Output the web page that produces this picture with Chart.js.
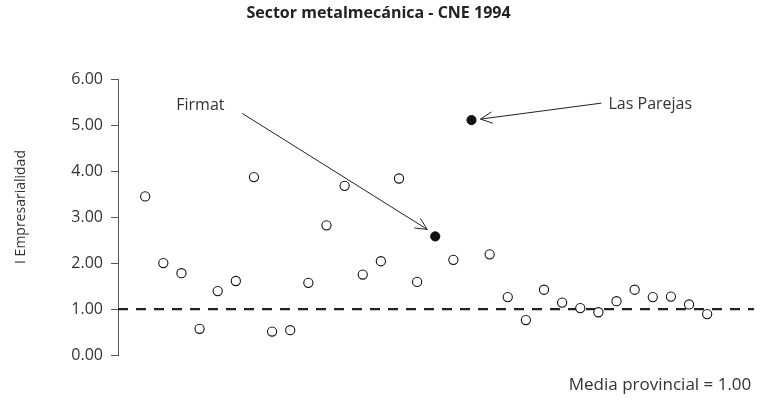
<!DOCTYPE html>
<html>
<head>
    <meta charset="UTF-8">
    <title>Sector metalmecánica - CNE 1994</title>
    <script src="https://cdn.jsdelivr.net/npm/chart.js"></script>
    <style>
        html, body { margin: 0; padding: 0; background: #fff; }
        .chart-box { width: 760px; height: 400px; position: relative; }
    </style>
</head>
<body>
    <div class="chart-box">
        <canvas id="chart"></canvas>
    </div>

    <script>
        // datos: índice de empresarialidad por localidad (orden del gráfico)
        const localidades = [1, 2, 3, 4, 5, 6, 7, 8, 9, 10, 11, 12, 13, 14, 15, 16,
                             17, 18, 19, 20, 21, 22, 23, 24, 25, 26, 27, 28, 29, 30, 31, 32];
        const indice = [3.45, 2.00, 1.78, 0.57, 1.39, 1.61, 3.87, 0.51, 0.54, 1.57, 2.82, 3.68,
                        1.75, 2.04, 3.84, 1.59, 2.58, 2.07, 5.11, 2.19, 1.26, 0.76, 1.42, 1.14,
                        1.02, 0.93, 1.17, 1.42, 1.26, 1.27, 1.10, 0.89];
        const destacadas = ['Firmat', 'Las Parejas'];
        const posDestacadas = [17, 19];
        const mediaProvincial = 1.00;
        const yTicks = [0, 1, 2, 3, 4, 5, 6];
        const tituloY = 'I Empresarialidad';

        const fuente = '"Open Sans", "DejaVu Sans", sans-serif';
        const gris = '#333';

        const abiertos = [];
        const llenos = [];
        localidades.forEach((x, i) => {
            const p = { x: x, y: indice[i] };
            if (posDestacadas.includes(x)) llenos.push(p); else abiertos.push(p);
        });

        const xMin = -0.5, xMax = 34.6;

        // flechas y textos de las localidades destacadas
        const anotaciones = {
            id: 'anotaciones',
            afterDatasetsDraw(chart) {
                const ctx = chart.ctx;
                const sx = chart.scales.x, sy = chart.scales.y;
                const conf = [
                    { nombre: destacadas[0], desde: [-193, -123], punta: [-8, -7], texto: [-259, -131] },
                    { nombre: destacadas[1], desde: [130, -17], punta: [9, -1], texto: [137, -16] }
                ];
                ctx.save();
                ctx.strokeStyle = '#222';
                ctx.lineWidth = 1;
                ctx.fillStyle = gris;
                ctx.font = '16px ' + fuente;
                ctx.textBaseline = 'middle';
                conf.forEach((c, k) => {
                    const x = posDestacadas[k];
                    const y = indice[localidades.indexOf(x)];
                    const px = sx.getPixelForValue(x), py = sy.getPixelForValue(y);
                    const x0 = px + c.desde[0], y0 = py + c.desde[1];
                    const x1 = px + c.punta[0], y1 = py + c.punta[1];
                    ctx.beginPath();
                    ctx.moveTo(x0, y0);
                    ctx.lineTo(x1, y1);
                    const ang = Math.atan2(y1 - y0, x1 - x0);
                    const L = 13, a = 0.45;
                    ctx.moveTo(x1 - L * Math.cos(ang - a), y1 - L * Math.sin(ang - a));
                    ctx.lineTo(x1, y1);
                    ctx.lineTo(x1 - L * Math.cos(ang + a), y1 - L * Math.sin(ang + a));
                    ctx.stroke();
                    ctx.textAlign = 'left';
                    ctx.fillText(c.nombre, px + c.texto[0], py + c.texto[1]);
                });
                // leyenda de la media
                ctx.font = '17px ' + fuente;
                ctx.textAlign = 'right';
                ctx.fillText('Media provincial = ' + mediaProvincial.toFixed(2), chart.chartArea.right - 3, 385);
                // título del eje Y
                ctx.font = '14px ' + fuente;
                ctx.textAlign = 'center';
                ctx.translate(21, 207);
                ctx.rotate(-Math.PI / 2);
                ctx.fillText(tituloY, 0, 0);
                ctx.restore();
            }
        };

        new Chart(document.getElementById('chart'), {
            type: 'scatter',
            data: {
                datasets: [
                    {
                        data: abiertos,
                        pointStyle: 'circle',
                        pointRadius: 4.6,
                        pointBorderWidth: 1.1,
                        borderColor: '#111',
                        backgroundColor: '#fff'
                    },
                    {
                        data: llenos,
                        pointStyle: 'circle',
                        pointRadius: 4.6,
                        pointBorderWidth: 1,
                        borderColor: '#111',
                        backgroundColor: '#111'
                    },
                    {
                        type: 'line',
                        data: [{ x: xMin, y: mediaProvincial }, { x: xMax, y: mediaProvincial }],
                        borderColor: '#222',
                        borderWidth: 2.2,
                        borderDash: [10, 8],
                        pointRadius: 0,
                        order: 5
                    }
                ]
            },
            options: {
                responsive: true,
                maintainAspectRatio: false,
                animation: false,
                events: [],
                layout: { padding: { left: 0, right: 3, top: 0, bottom: 45 } },
                plugins: {
                    legend: { display: false },
                    tooltip: { enabled: false },
                    title: {
                        display: true,
                        text: 'Sector metalmecánica - CNE 1994',
                        color: '#222',
                        font: { family: fuente, size: 16, weight: 'bold' },
                        padding: { top: 4, bottom: 56 }
                    }
                },
                scales: {
                    x: {
                        type: 'linear',
                        display: false,
                        min: xMin,
                        max: xMax
                    },
                    y: {
                        min: 0,
                        max: 6,
                        afterBuildTicks: s => { s.ticks = yTicks.map(v => ({ value: v })); },
                        afterFit: s => { s.width = 118; },
                        ticks: {
                            color: gris,
                            padding: 8,
                            font: { family: fuente, size: 16 },
                            callback: v => Number(v).toFixed(2)
                        },
                        grid: {
                            drawOnChartArea: false,
                            drawTicks: true,
                            tickLength: 7,
                            color: '#555',
                            lineWidth: 1
                        },
                        border: { display: true, color: '#555', width: 1 },
                        title: { display: false }
                    }
                }
            },
            plugins: [anotaciones]
        });
    </script>
</body>
</html>
